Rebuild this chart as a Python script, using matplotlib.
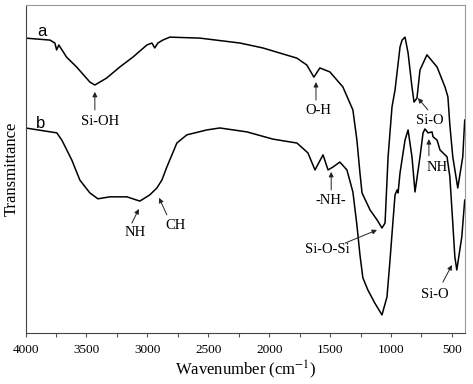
import numpy as np
import matplotlib
matplotlib.use("Agg")
import matplotlib.pyplot as plt

"""
    FTIR spectra of two samples (a and b), transmittance in arbitrary units.
"""
############## - Data - ########################################
wn_a = [4000, 3800, 3759, 3745, 3727, 3663, 3581, 3472, 3431, 3390, 3335, 3226,
        3119, 3004, 2963, 2939, 2914, 2873, 2816, 2569, 2240, 2052, 1773, 1691,
        1633, 1584, 1502, 1395, 1313, 1280, 1255, 1238, 1172, 1115, 1074, 1049,
        1024, 992, 967, 926, 909, 885, 860, 828, 811, 787, 762, 705, 622, 557,
        533, 517, 493, 452, 411, 395]
T_a = [89.9, 89.3, 88.4, 86.3, 87.8, 84.1, 81.1, 76.5, 75.6, 76.5, 77.7, 81.1,
       84.1, 87.8, 88.4, 86.9, 88.4, 89.3, 90.2, 89.9, 88.4, 86.9, 83.8, 81.7,
       78.0, 80.8, 79.6, 75.0, 68.0, 58.8, 48.8, 42.7, 37.5, 34.5, 32.0, 33.5,
       53.7, 68.9, 74.1, 87.2, 89.3, 90.2, 85.4, 75.0, 70.4, 71.6, 80.2, 84.8,
       81.1, 75.0, 72.0, 63.4, 53.7, 44.2, 53.7, 64.9]

wn_b = [4000, 3743, 3702, 3620, 3554, 3472, 3406, 3308, 3168, 3062, 2980, 2922,
        2881, 2840, 2758, 2676, 2512, 2405, 2183, 1969, 1772, 1682, 1624, 1558,
        1517, 1476, 1420, 1362, 1313, 1280, 1255, 1231, 1190, 1133, 1074, 1033,
        1008, 983, 967, 950, 942, 926, 885, 860, 828, 803, 762, 737, 721, 696,
        663, 655, 622, 598, 540, 517, 493, 476, 460, 419, 395]
T_b = [62.5, 61.0, 58.8, 52.7, 46.6, 42.7, 40.9, 41.5, 41.5, 40.2, 42.1, 44.2,
       46.6, 50.6, 57.9, 60.4, 61.9, 62.5, 61.3, 59.1, 57.9, 54.9, 49.7, 54.3,
       49.7, 50.6, 52.1, 49.7, 43.0, 32.9, 23.8, 16.8, 13.1, 9.1, 5.5, 11.0,
       22.3, 34.5, 42.1, 43.6, 42.7, 48.8, 58.8, 61.9, 53.7, 43.0, 53.7, 61.0,
       62.2, 61.0, 61.3, 59.8, 58.8, 55.8, 53.7, 47.6, 33.5, 23.2, 19.2, 29.3,
       40.5]

# band labels: text, text position, arrow tail, arrow head
band_labels = ['Si-OH', 'O-H', 'Si-O', 'NH', '-NH-', 'NH', 'CH', 'Si-O-Si', 'Si-O']
label_pos = [(3390, 64.6), (1600, 67.7), (680, 64.9), (623, 50.3), (1491, 40.5),
             (3101, 30.5), (2765, 32.9), (1525, 25.3), (640, 11.6)]
arrow_tail = [(3431, 68.0), (1616, 71.0), (697, 68.0), (689, 54.0), (1491, 43.6),
              (3127, 33.5), (2840, 36.0), (1377, 27.4), (574, 15.5)]
arrow_head = [(3431, 73.5), (1616, 76.5), (779, 71.6), (689, 59.1), (1491, 49.1),
              (3070, 37.8), (2904, 41.2), (1115, 31.4), (500, 20.7)]

################ - Plotting results - ##################
plt.rcParams['mathtext.fontset'] = 'stix'
serif = 'Liberation Serif'

fig = plt.figure(figsize=(4.73, 3.84), dpi=100)
ax = fig.add_axes([0.054, 0.133, 0.929, 0.854])

ax.plot(wn_a, T_a, color='black', lw=1.1)
ax.plot(wn_b, T_b, color='black', lw=1.1)

ax.text(3866, 91.8, 'a', fontsize=12, family='Liberation Sans', ha='center', va='center')
ax.text(3880, 64.0, 'b', fontsize=12, family='Liberation Sans', ha='center', va='center')

for lab, pos, tail, head in zip(band_labels, label_pos, arrow_tail, arrow_head):
    ax.text(pos[0], pos[1], lab, fontsize=10.5, family=serif, ha='center', va='center')
    ax.annotate('', xy=head, xytext=tail,
                arrowprops=dict(arrowstyle='-|>', lw=0.7, color='#222222',
                                mutation_scale=7, shrinkA=0, shrinkB=0))

ax.set_xlim(4000, 393)
ax.set_ylim(0, 100)
ax.set_xticks([4000, 3500, 3000, 2500, 2000, 1500, 1000, 500])
ax.set_xticks(np.arange(3750, 390, -500), minor=True)
ax.set_yticks([])
ax.tick_params(axis='x', which='both', direction='out', length=3, width=0.8,
               color='#555555', pad=5)
for t in ax.get_xticklabels():
    t.set_family(serif)
    t.set_fontsize(9.5)

for s in ['left', 'bottom']:
    ax.spines[s].set_color('#444444')
for s in ['top', 'right']:
    ax.spines[s].set_color('#999999')

ax.set_xlabel('Wavenumber (cm$^{-1}$)', family=serif, fontsize=12, labelpad=2)
ax.set_ylabel('Transmittance', family=serif, fontsize=12, labelpad=4)

fig.savefig('out.png', dpi=100)
